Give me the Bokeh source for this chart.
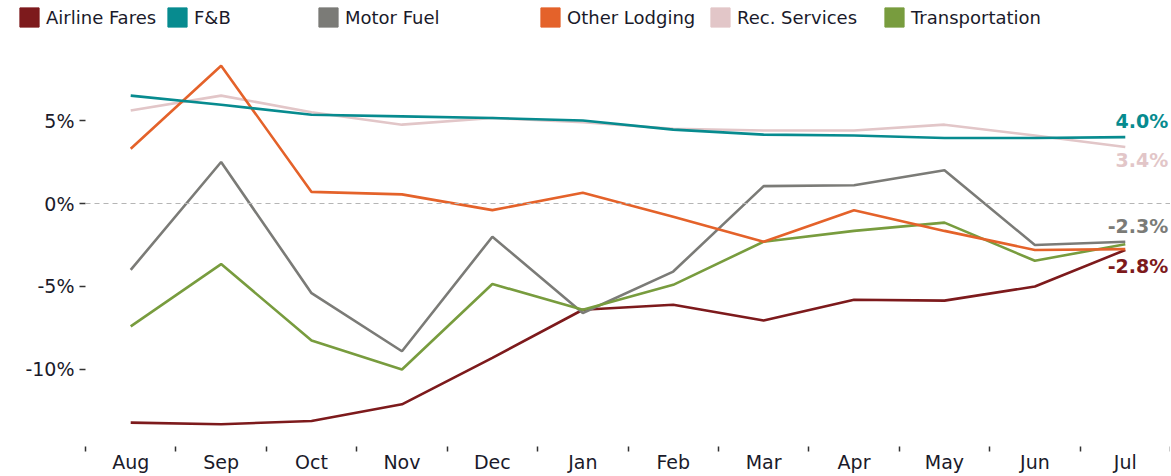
from bokeh.plotting import figure
from bokeh.layouts import column
from bokeh.models import (Range1d, FixedTicker, CustomJSTickFormatter, PrintfTickFormatter,
                          Span, Legend, LegendItem, ColumnDataSource)
from bokeh.core.properties import value
from bokeh.embed import file_html
from bokeh.resources import INLINE

# ---------------- data ----------------
months = ["Aug", "Sep", "Oct", "Nov", "Dec", "Jan", "Feb", "Mar", "Apr", "May", "Jun", "Jul"]
series_names = ["Airline Fares", "F&B", "Motor Fuel", "Other Lodging", "Rec. Services", "Transportation"]
airline_fares = [-13.2, -13.3, -13.1, -12.1, -9.3, -6.4, -6.1, -7.05, -5.8, -5.85, -5.0, -2.8]
fnb = [6.5, 5.95, 5.35, 5.25, 5.15, 5.0, 4.45, 4.15, 4.1, 3.95, 3.95, 4.0]
motor_fuel = [-4.0, 2.5, -5.4, -8.9, -2.0, -6.6, -4.1, 1.05, 1.1, 2.0, -2.5, -2.3]
other_lodging = [3.3, 8.3, 0.7, 0.55, -0.4, 0.65, -0.8, -2.3, -0.4, -1.65, -2.8, -2.75]
rec_services = [5.6, 6.5, 5.5, 4.75, 5.15, 4.9, 4.5, 4.4, 4.4, 4.75, 4.1, 3.4]
transportation = [-7.4, -3.65, -8.25, -10.0, -4.85, -6.4, -4.9, -2.3, -1.65, -1.15, -3.45, -2.45]
y_ticks = [-10, -5, 0, 5]

colors = {
    "Airline Fares": "#7d1a1c",
    "F&B": "#078b8f",
    "Motor Fuel": "#7b7b77",
    "Other Lodging": "#e4622a",
    "Rec. Services": "#e2c6c8",
    "Transportation": "#789c3e",
}
values = {
    "Airline Fares": airline_fares,
    "F&B": fnb,
    "Motor Fuel": motor_fuel,
    "Other Lodging": other_lodging,
    "Rec. Services": rec_services,
    "Transportation": transportation,
}

FONT = "DejaVu Sans"
TEXT = "#1a1a2a"
W = 1170
xs = [i + 0.5 for i in range(len(months))]

# ---------------- legend strip ----------------
lg = figure(width=W, height=36, output_backend="svg", toolbar_location=None,
            x_range=Range1d(0, 1), y_range=Range1d(0, 1),
            x_axis_location=None, y_axis_location=None, min_border=0)
lg.frame_align = False
lg.outline_line_color = None
lg.xgrid.visible = False
lg.ygrid.visible = False

legend_x = [17, 165, 316, 538, 708, 882]
for name, px in zip(series_names, legend_x):
    # swatch renderer lies outside the strip's range; only its legend entry shows
    sw = lg.quad(left=[2], right=[3], top=[3], bottom=[2], fill_color=colors[name],
                 line_color=colors[name])
    leg = Legend(items=[LegendItem(label=name, renderers=[sw])],
                 location=(px, 7), orientation="horizontal",
                 border_line_color=None, background_fill_alpha=0,
                 padding=0, margin=0, spacing=0,
                 glyph_width=24, glyph_height=24, label_height=24,
                 label_standoff=5, label_text_font=FONT, label_text_font_size="18px",
                 label_text_color=TEXT)
    lg.add_layout(leg)

# ---------------- main chart ----------------
p = figure(width=W, height=439, output_backend="svg", toolbar_location=None,
           x_range=Range1d(0, 12.0), y_range=Range1d(-14.64, 9.52),
           min_border_left=85, min_border_right=0, min_border_top=9, min_border_bottom=0)
p.frame_align = False
p.outline_line_color = None
p.xgrid.visible = False
p.ygrid.visible = False
p.background_fill_color = "white"

p.add_layout(Span(location=0, dimension="width", line_color="#b5b5b5",
                  line_dash="5 4", line_width=1.2))

for name in ["Rec. Services", "Airline Fares", "Motor Fuel", "Transportation", "Other Lodging", "F&B"]:
    src = ColumnDataSource(dict(x=xs, y=values[name]))
    p.line("x", "y", source=src, line_color=colors[name], line_width=2.6)

label_names = ["F&B", "Rec. Services", "Motor Fuel", "Airline Fares"]
label_offsets = [-16, 13, -16, 16]
lab_src = ColumnDataSource(dict(
    x=[xs[-1]] * len(label_names),
    y=[values[n][-1] for n in label_names],
    text=[f"{values[n][-1]:.1f}%" for n in label_names],
    color=[colors[n] for n in label_names],
    yo=label_offsets,
))
p.text("x", "y", text="text", source=lab_src, text_color="color", y_offset="yo", x_offset=43,
       text_align="right", text_baseline="middle", text_font=value(FONT),
       text_font_size="19px", text_font_style="bold")

xa = p.xaxis[0]
xa.ticker = FixedTicker(ticks=xs, minor_ticks=list(range(len(months) + 1)))
xa.formatter = CustomJSTickFormatter(args=dict(months=months),
                                     code="return months[Math.floor(tick)] || '';")
xa.axis_line_color = None
xa.major_tick_out = 0
xa.major_tick_in = 0
xa.minor_tick_out = 5
xa.minor_tick_in = 0
xa.minor_tick_line_color = "#333333"
xa.minor_tick_line_width = 1.5
xa.major_label_standoff = -1
xa.major_label_text_font = FONT
xa.major_label_text_font_size = "19px"
xa.major_label_text_color = TEXT

ya = p.yaxis[0]
ya.ticker = FixedTicker(ticks=y_ticks, minor_ticks=[])
ya.formatter = PrintfTickFormatter(format="%d%%")
ya.axis_line_color = None
ya.major_tick_out = 6
ya.major_tick_in = 0
ya.major_tick_line_color = "#333333"
ya.major_tick_line_width = 1.5
ya.minor_tick_out = 0
ya.major_label_standoff = 5
ya.major_label_text_font = FONT
ya.major_label_text_font_size = "19px"
ya.major_label_text_color = TEXT

layout = column(lg, p, spacing=0)
open("out.html", "w").write(file_html(layout, INLINE))
